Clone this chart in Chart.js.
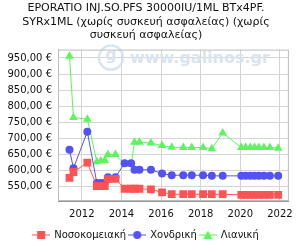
<!DOCTYPE html>
<html>
<head>
<meta charset="utf-8">
<script src="https://cdn.jsdelivr.net/npm/chart.js@4.4.1/dist/chart.umd.min.js"></script>
<style>
  html, body { margin: 0; padding: 0; background: #fff; }
  #wrap { width: 300px; height: 250px; }
</style>
</head>
<body>
<div id="wrap"><canvas id="chart" width="300" height="250"></canvas></div>
<script>
// Price history
const titleLines = [
  'EPORATIO INJ.SO.PFS 30000IU/1ML BTx4PF.',
  'SYRx1ML (χωρίς συσκευή ασφαλείας) (χωρίς',
  'συσκευή ασφαλείας)'
];
const seriesNames = ['Νοσοκομειακή', 'Χονδρική', 'Λιανική'];
const dates = [2011.38, 2011.58, 2012.28, 2012.76, 2012.96, 2013.16, 2013.32, 2013.70,
  2014.16, 2014.49, 2014.66, 2014.91, 2015.49, 2016.05, 2016.54, 2017.12, 2017.55,
  2018.12, 2018.56, 2019.11, 2020.05, 2020.27, 2020.50, 2020.72, 2020.94, 2021.19,
  2021.49, 2021.91];
const hospital = [578, 596, 625, 552, 552, 552, 574, 575, 544, 544, 544, 544, 542, 533,
  527, 527, 527, 527, 527, 527, 525, 525, 525, 525, 525, 525, 525, 525];
const wholesale = [665, 608, 721, 562, 562, 562, 580, 580, 623, 623, 603, 603, 603, 591,
  586, 586, 586, 586, 584, 584, 584, 584, 584, 584, 584, 584, 584, 584];
const retail = [955, 765, 760, 628, 630, 632, 650, 650, 620, 620, 688, 688, 686, 678,
  673, 672, 672, 672, 668, 717, 672, 672, 672, 672, 672, 672, 672, 670];
const xTicks = [2012, 2014, 2016, 2018, 2020, 2022];
const yTicks = [550, 600, 650, 700, 750, 800, 850, 900, 950];
const xRange = [2010.8, 2022.45];
const yRange = [506, 976];

const COLORS = { red: '#ff5252', blue: '#5353f5', green: '#5cf55c' };

const toPoints = vals => vals.map((v, i) => ({ x: dates[i], y: v }));

function euro(v) {
  return v.toFixed(2).replace('.', ',') + ' €';
}

// small line + marker swatch for the legend
function swatch(color, style) {
  const c = document.createElement('canvas');
  c.width = 18; c.height = 10;
  const g = c.getContext('2d');
  g.strokeStyle = color; g.fillStyle = color; g.lineWidth = 1;
  g.beginPath(); g.moveTo(0, 5); g.lineTo(18, 5); g.stroke();
  g.beginPath();
  if (style === 'rect') g.rect(5, 1, 8, 8);
  else if (style === 'circle') g.arc(9, 5, 4, 0, Math.PI * 2);
  else { g.moveTo(9, 0.5); g.lineTo(13.5, 9); g.lineTo(4.5, 9); g.closePath(); }
  g.fill();
  return c;
}

const watermark = {
  id: 'watermark',
  beforeDatasetsDraw(chart) {
    const { ctx, chartArea: a } = chart;
    ctx.save();
    ctx.strokeStyle = '#dae4ef';
    ctx.fillStyle = '#dae4ef';
    ctx.lineWidth = 2.5;
    ctx.beginPath(); ctx.arc(a.left + 53, a.top + 8, 12, 0, Math.PI * 2); ctx.stroke();
    ctx.font = 'bold 16px "DejaVu Sans"';
    ctx.textAlign = 'center'; ctx.textBaseline = 'middle';
    ctx.fillText('g', a.left + 53, a.top + 6);
    ctx.textAlign = 'left';
    ctx.fillText('www.galinos.gr', a.left + 72, a.top + 9);
    ctx.restore();
  }
};

const common = { borderWidth: 1, tension: 0, fill: false, pointBorderWidth: 0 };
const tickFont = { family: 'DejaVu Sans', size: 10 };

new Chart(document.getElementById('chart'), {
  type: 'line',
  data: {
    datasets: [
      { ...common, label: seriesNames[0], data: toPoints(hospital), borderColor: COLORS.red,
        backgroundColor: COLORS.red, pointStyle: 'rect', pointRadius: 5.5 },
      { ...common, label: seriesNames[1], data: toPoints(wholesale), borderColor: COLORS.blue,
        backgroundColor: COLORS.blue, pointStyle: 'circle', pointRadius: 4 },
      { ...common, label: seriesNames[2], data: toPoints(retail), borderColor: COLORS.green,
        backgroundColor: COLORS.green, pointStyle: 'triangle', pointRadius: 5 }
    ]
  },
  options: {
    responsive: false,
    animation: false,
    layout: { padding: { left: 0, right: 8, top: 0, bottom: 0 } },
    plugins: {
      title: {
        display: true,
        text: titleLines,
        color: '#111',
        font: { family: 'DejaVu Sans', size: 11, weight: 'normal', lineHeight: 1.2 },
        padding: { top: 2, bottom: 8 }
      },
      legend: {
        position: 'bottom',
        labels: {
          color: '#111',
          font: { family: 'DejaVu Sans', size: 10 },
          usePointStyle: true,
          pointStyleWidth: 16,
          padding: 3,
          generateLabels: chart => chart.data.datasets.map((d, i) => ({
            text: d.label,
            fontColor: '#111',
            pointStyle: swatch(d.borderColor, d.pointStyle),
            datasetIndex: i,
            lineWidth: 0,
            hidden: false
          }))
        }
      },
      tooltip: { enabled: false }
    },
    scales: {
      x: {
        type: 'linear',
        min: xRange[0],
        max: xRange[1],
        afterBuildTicks: s => { s.ticks = xTicks.map(v => ({ value: v })); },
        grid: { color: '#d4d4d4', borderDash: [3, 3], drawTicks: false },
        border: { color: '#999', width: 1 },
        ticks: { color: '#111', padding: 7, maxRotation: 0, font: tickFont,
          callback: v => String(v) }
      },
      y: {
        min: yRange[0],
        max: yRange[1],
        afterBuildTicks: s => { s.ticks = yTicks.map(v => ({ value: v })); },
        afterFit: s => { s.width = 58; },
        grid: { color: '#d4d4d4', borderDash: [3, 3], drawTicks: false },
        border: { color: '#999', width: 1 },
        ticks: { color: '#111', padding: 6, font: tickFont, callback: v => euro(v) }
      }
    }
  },
  plugins: [watermark, {
    id: 'frame',
    afterDraw(chart) {
      const { ctx, chartArea: a } = chart;
      ctx.save();
      ctx.strokeStyle = '#bbb';
      ctx.lineWidth = 1;
      ctx.strokeRect(a.left + 0.5, a.top + 0.5, a.right - a.left - 1, a.bottom - a.top - 1);
      ctx.restore();
    }
  }]
});
</script>
</body>
</html>
